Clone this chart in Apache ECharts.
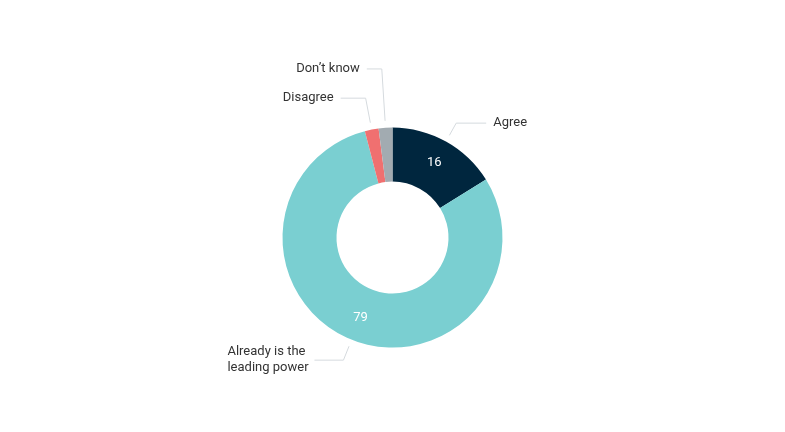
<!DOCTYPE html>
<html>
<head>
<meta charset="utf-8">
<script src="https://cdn.jsdelivr.net/npm/echarts@6/dist/echarts.min.js"></script>
<style>
  html, body { margin: 0; padding: 0; background: #fff; }
  #chart { width: 785px; height: 432px; }
</style>
</head>
<body>
<div id="chart"></div>
<script>
const categories = ["Agree", "Already is the\nleading power", "Disagree", "Don\u2019t know"];
const values = [16, 79, 2, 2];
const colors = ["#00263e", "#7acfd1", "#f07070", "#a2abb1"];
const showValue = [true, true, false, false];
// connector lengths
const lineLen1 = [14, 15, 25, 52];
const lineLen2 = [30, 29, 25, 15];

const font = "Roboto, 'Noto Sans', sans-serif";
const center = ["50%", "55%"];

const chart = echarts.init(document.getElementById("chart"));

chart.setOption({
  animation: false,
  textStyle: { fontFamily: font },
  series: [
    {
      type: "pie",
      center,
      radius: [56, 110],
      startAngle: 90,
      clockwise: true,
      data: categories.map((name, i) => ({
        name,
        value: values[i],
        itemStyle: { color: colors[i] },
        label: { show: showValue[i] }
      })),
      label: {
        position: "inside",
        color: "#fff",
        fontSize: 13,
        fontFamily: font,
        formatter: (p) => p.value
      },
      labelLine: { show: false },
      emphasis: { disabled: true }
    },
    {
      type: "pie",
      center,
      radius: [56, 117],
      startAngle: 90,
      clockwise: true,
      silent: true,
      data: categories.map((name, i) => ({
        name,
        value: values[i],
        labelLine: { length: lineLen1[i], length2: lineLen2[i] }
      })),
      itemStyle: { color: "rgba(0,0,0,0)" },
      label: {
        position: "outside",
        color: "#333",
        fontSize: 13,
        fontFamily: font,
        lineHeight: 16,
        distanceToLabelLine: 7,
        // multi-line labels keep their lines left-aligned
        formatter: (p) => p.name.indexOf("\n") < 0
          ? p.name
          : p.name.split("\n").map((s) => "{t|" + s + "}").join("\n"),
        rich: {
          t: { fontSize: 13, fontFamily: font, color: "#333", lineHeight: 16, width: 80, align: "left" }
        }
      },
      labelLine: {
        lineStyle: { color: "#d5dade", width: 1 }
      },
      emphasis: { disabled: true }
    }
  ]
});
</script>
</body>
</html>
